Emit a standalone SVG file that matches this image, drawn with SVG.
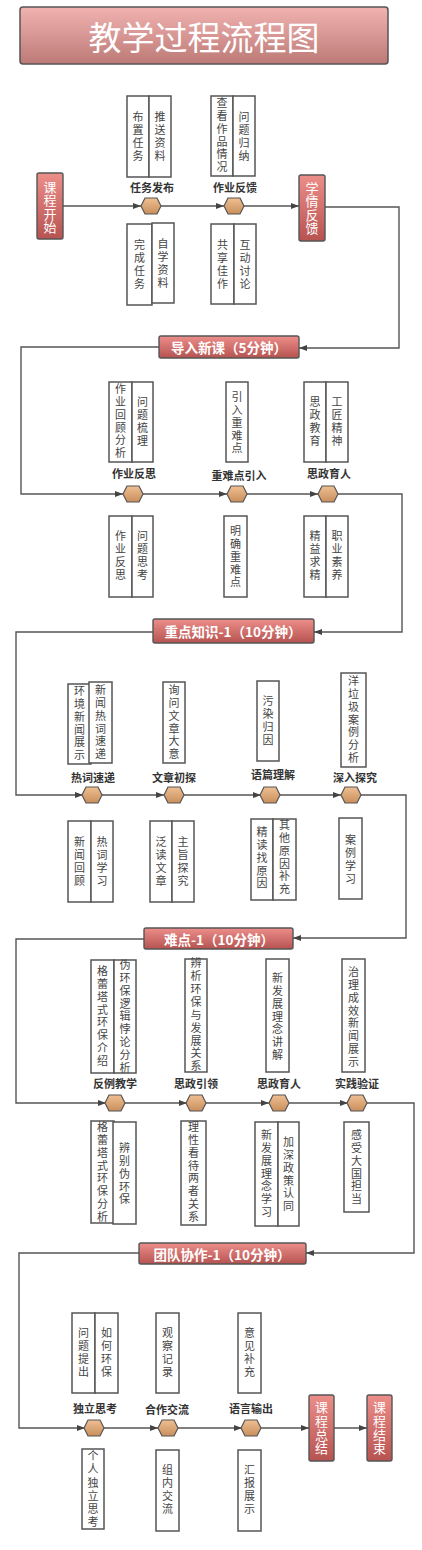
<svg xmlns="http://www.w3.org/2000/svg" width="422" height="1550" viewBox="0 0 422 1550">
<defs>
<linearGradient id="gTitle" x1="0" y1="0" x2="0" y2="1"><stop offset="0" stop-color="#f1b3b0"/><stop offset="1" stop-color="#bd7a77"/></linearGradient>
<linearGradient id="gRed" x1="0" y1="0" x2="0" y2="1"><stop offset="0" stop-color="#ec8e8a"/><stop offset="1" stop-color="#b65351"/></linearGradient>
<linearGradient id="gHex" x1="0" y1="0" x2="0" y2="1"><stop offset="0" stop-color="#efbf92"/><stop offset="1" stop-color="#c98f5c"/></linearGradient>
<marker id="arr" markerWidth="8" markerHeight="6" refX="8" refY="3" orient="auto" markerUnits="userSpaceOnUse"><path d="M0,0 L8,3 L0,6 Z" fill="#444"/></marker>
<polygon id="hex" points="-10,0 -6,-8 6,-8 10,0 6,8 -6,8" fill="url(#gHex)" stroke="#555" stroke-width="1.2"/>
</defs>
<style>
.conn path{fill:none;stroke:#555;stroke-width:1.4}
.box{fill:#fff;stroke:#555;stroke-width:1.5}
.vt{font-family:"Noto Sans CJK SC","Noto Sans",sans-serif;font-size:11px;fill:#444;writing-mode:vertical-rl;letter-spacing:1.8px;dominant-baseline:central}
.lbl{font-family:"Noto Sans CJK SC","Noto Sans",sans-serif;font-size:11px;font-weight:bold;fill:#333;text-anchor:middle;dominant-baseline:central}
.red{fill:url(#gRed);stroke:#555;stroke-width:1.4}
.rt{font-family:"Noto Sans CJK SC","Noto Sans",sans-serif;font-size:13px;fill:#fff;writing-mode:vertical-rl;letter-spacing:0.4px;dominant-baseline:central}
.ht{font-family:"Noto Sans CJK SC","Noto Sans",sans-serif;font-size:13.5px;font-weight:bold;fill:#fff;text-anchor:middle;dominant-baseline:central}
</style>
<rect width="422" height="1550" fill="#fff"/>
<g id="title">
<rect x="20" y="7" width="368" height="57" rx="3" fill="url(#gTitle)" stroke="#555" stroke-width="1.5"/>
<text x="204" y="36" font-family="Noto Sans CJK SC,sans-serif" font-size="33" fill="#fff" text-anchor="middle" dominant-baseline="central">教学过程流程图</text>
</g>

<g id="connectors" class="conn">
<path d="M63,206 H141" marker-end="url(#arr)"/>
<path d="M161,206 H224" marker-end="url(#arr)"/>
<path d="M244,206 H299" marker-end="url(#arr)"/>
<path d="M325,207 H399 V348 H299" marker-end="url(#arr)"/>
<path d="M159,347 H21 V494 H123" marker-end="url(#arr)"/>
<path d="M143,494 H227" marker-end="url(#arr)"/>
<path d="M247,494 H318" marker-end="url(#arr)"/>
<path d="M338,494 H402 V632 H314" marker-end="url(#arr)"/>
<path d="M153,632 H16 V795 H83" marker-end="url(#arr)"/>
<path d="M102,795 H164" marker-end="url(#arr)"/>
<path d="M183,795 H261" marker-end="url(#arr)"/>
<path d="M280,795 H341" marker-end="url(#arr)"/>
<path d="M360,795 H406 V938 H293" marker-end="url(#arr)"/>
<path d="M144,939 H16 V1103 H106" marker-end="url(#arr)"/>
<path d="M125,1103 H187" marker-end="url(#arr)"/>
<path d="M206,1103 H269" marker-end="url(#arr)"/>
<path d="M289,1103 H348" marker-end="url(#arr)"/>
<path d="M367,1103 H414 V1253 H306" marker-end="url(#arr)"/>
<path d="M139,1253 H19 V1428 H85" marker-end="url(#arr)"/>
<path d="M104,1428 H158" marker-end="url(#arr)"/>
<path d="M178,1428 H242" marker-end="url(#arr)"/>
<path d="M261,1428 H309" marker-end="url(#arr)"/>
<path d="M334,1428 H367" marker-end="url(#arr)"/>
</g>

<g id="start"><rect class="red" x="37" y="173" width="26" height="66" rx="2"/><text class="rt" x="50" y="180.5">课程开始</text></g>
<g id="feedback"><rect class="red" x="299" y="175" width="26" height="66" rx="2"/><text class="rt" x="312" y="181.5">学情反馈</text></g>

<!-- Section 1 -->
<g id="n-task"><use href="#hex" x="151" y="206"/><text class="lbl" x="152" y="187">任务发布</text></g>
<g id="n-hwfb"><use href="#hex" x="234" y="206"/><text class="lbl" x="235" y="187">作业反馈</text></g>
<g id="b1a"><rect class="box" x="127" y="96" width="22" height="81"/><rect class="box" x="149" y="96" width="22" height="81"/>
<text class="vt" x="138" y="111.5">布置任务</text><text class="vt" x="160" y="111.5">推送资料</text></g>
<g id="b1b"><rect class="box" x="211" y="96" width="22" height="80"/><rect class="box" x="233" y="96" width="22" height="80"/>
<text class="vt" x="222" y="97.5">查看作品情况</text><text class="vt" x="244" y="111.5">问题归纳</text></g>
<g id="b1c"><rect class="box" x="127" y="224" width="25" height="81"/><rect class="box" x="152" y="223" width="22" height="80"/>
<text class="vt" x="139.5" y="239.5">完成任务</text><text class="vt" x="163" y="238.5">自学资料</text></g>
<g id="b1d"><rect class="box" x="211" y="224" width="23" height="80"/><rect class="box" x="234" y="224" width="22" height="80"/>
<text class="vt" x="222.5" y="239.5">共享佳作</text><text class="vt" x="245" y="239.5">互动讨论</text></g>

<!-- Section 2 -->
<g id="h-intro"><rect class="red" x="159" y="336" width="140" height="22" rx="2"/><text class="ht" x="229" y="347">导入新课（5分钟）</text></g>
<g id="n-hwref"><use href="#hex" x="133" y="494"/><text class="lbl" x="134" y="473">作业反思</text></g>
<g id="n-keyin"><use href="#hex" x="237" y="494"/><text class="lbl" x="239" y="475">重难点引入</text></g>
<g id="n-szyr1"><use href="#hex" x="328" y="494"/><text class="lbl" x="329" y="473">思政育人</text></g>
<g id="b2a"><rect class="box" x="109" y="382" width="23" height="80"/><rect class="box" x="132" y="382" width="21" height="80"/>
<text class="vt" x="120.5" y="383.5">作业回顾分析</text><text class="vt" x="142.5" y="396.5">问题梳理</text></g>
<g id="b2b"><rect class="box" x="226" y="382" width="22" height="80"/>
<text class="vt" x="237" y="391.5">引入重难点</text></g>
<g id="b2c"><rect class="box" x="304" y="382" width="22" height="80"/><rect class="box" x="326" y="382" width="22" height="80"/>
<text class="vt" x="315" y="396.5">思政教育</text><text class="vt" x="337" y="396.5">工匠精神</text></g>
<g id="b2d"><rect class="box" x="109" y="516" width="23" height="81"/><rect class="box" x="132" y="516" width="21" height="81"/>
<text class="vt" x="120.5" y="530.5">作业反思</text><text class="vt" x="142.5" y="530.5">问题思考</text></g>
<g id="b2e"><rect class="box" x="224" y="516" width="23" height="81"/>
<text class="vt" x="235.5" y="525.5">明确重难点</text></g>
<g id="b2f"><rect class="box" x="304" y="516" width="22" height="81"/><rect class="box" x="326" y="516" width="22" height="81"/>
<text class="vt" x="315" y="530.5">精益求精</text><text class="vt" x="337" y="530.5">职业素养</text></g>

<!-- Section 3 -->
<g id="h-key"><rect class="red" x="153" y="619" width="161" height="24" rx="2"/><text class="ht" x="233" y="631">重点知识-1（10分钟）</text></g>
<g id="n-hot"><use href="#hex" x="92" y="795"/><text class="lbl" x="93" y="777">热词速递</text></g>
<g id="n-art"><use href="#hex" x="174" y="795"/><text class="lbl" x="174" y="777">文章初探</text></g>
<g id="n-txt"><use href="#hex" x="270" y="795"/><text class="lbl" x="273" y="774">语篇理解</text></g>
<g id="n-deep"><use href="#hex" x="351" y="795"/><text class="lbl" x="355" y="777">深入探究</text></g>
<g id="b3a"><rect class="box" x="68" y="684" width="23" height="80"/><rect class="box" x="89" y="682" width="23" height="81"/>
<text class="vt" x="79.5" y="685.5">环境新闻展示</text><text class="vt" x="100.5" y="684.5">新闻热词速递</text></g>
<g id="b3b"><rect class="box" x="163" y="682" width="22" height="81"/>
<text class="vt" x="174" y="684.5">询问文章大意</text></g>
<g id="b3c"><rect class="box" x="257" y="681" width="22" height="80"/>
<text class="vt" x="268" y="695.5">污染归因</text></g>
<g id="b3d"><rect class="box" x="341" y="673" width="25" height="94"/>
<text class="vt" x="353.5" y="675.5">洋垃圾案例分析</text></g>
<g id="b3e"><rect class="box" x="68" y="821" width="23" height="81"/><rect class="box" x="91" y="821" width="22" height="81"/>
<text class="vt" x="79.5" y="836.5">新闻回顾</text><text class="vt" x="102" y="836.5">热词学习</text></g>
<g id="b3f"><rect class="box" x="150" y="821" width="22" height="81"/><rect class="box" x="172" y="821" width="22" height="81"/>
<text class="vt" x="161" y="836.5">泛读文章</text><text class="vt" x="183" y="836.5">主旨探究</text></g>
<g id="b3g"><rect class="box" x="251" y="819" width="22" height="81"/><rect class="box" x="273" y="819" width="23" height="81"/>
<text class="vt" x="262" y="826.5">精读找原因</text><text class="vt" x="284.5" y="819.5">其他原因补充</text></g>
<g id="b3h"><rect class="box" x="339" y="818" width="23" height="81"/>
<text class="vt" x="350.5" y="834.5">案例学习</text></g>

<!-- Section 4 -->
<g id="h-diff"><rect class="red" x="144" y="928" width="149" height="21" rx="2"/><text class="ht" x="219" y="938.5">难点-1（10分钟）</text></g>
<g id="n-counter"><use href="#hex" x="115" y="1103"/><text class="lbl" x="115" y="1083">反例教学</text></g>
<g id="n-szyl"><use href="#hex" x="196" y="1103"/><text class="lbl" x="196" y="1083">思政引领</text></g>
<g id="n-szyr2"><use href="#hex" x="279" y="1103"/><text class="lbl" x="279" y="1083">思政育人</text></g>
<g id="n-prac"><use href="#hex" x="357" y="1103"/><text class="lbl" x="357" y="1083">实践验证</text></g>
<g id="b4a"><rect class="box" x="91" y="960" width="23" height="113"/><rect class="box" x="114" y="960" width="22" height="113"/>
<text class="vt" x="102.5" y="965.5">格蕾塔式环保介绍</text><text class="vt" x="125" y="959.5">伪环保逻辑悖论分析</text></g>
<g id="b4b"><rect class="box" x="185" y="959" width="22" height="113"/>
<text class="vt" x="196" y="957.5" style="letter-spacing:1.9px">辨析环保与发展关系</text></g>
<g id="b4c"><rect class="box" x="266" y="959" width="23" height="113"/>
<text class="vt" x="277.5" y="972.5">新发展理念讲解</text></g>
<g id="b4d"><rect class="box" x="342" y="959" width="23" height="113"/>
<text class="vt" x="353.5" y="966.5">治理成效新闻展示</text></g>
<g id="b4e"><rect class="box" x="91" y="1121" width="23" height="102"/><rect class="box" x="113" y="1122" width="23" height="102"/>
<text class="vt" x="102.5" y="1121.5">格蕾塔式环保分析</text><text class="vt" x="124.5" y="1142.5">辨别伪环保</text></g>
<g id="b4f"><rect class="box" x="181" y="1121" width="25" height="104"/>
<text class="vt" x="193.5" y="1121.5">理性看待两者关系</text></g>
<g id="b4g"><rect class="box" x="255" y="1122" width="23" height="104"/><rect class="box" x="278" y="1122" width="21" height="104"/>
<text class="vt" x="266.5" y="1129.5">新发展理念学习</text><text class="vt" x="288.5" y="1136.5">加深政策认同</text></g>
<g id="b4h"><rect class="box" x="344" y="1122" width="25" height="90"/>
<text class="vt" x="356.5" y="1129.5">感受大国担当</text></g>

<!-- Section 5 -->
<g id="h-team"><rect class="red" x="139" y="1243" width="167" height="21" rx="2"/><text class="ht" x="222" y="1253.5">团队协作-1（10分钟）</text></g>
<g id="n-indep"><use href="#hex" x="94" y="1428"/><text class="lbl" x="95" y="1408">独立思考</text></g>
<g id="n-coop"><use href="#hex" x="168" y="1428"/><text class="lbl" x="167" y="1409">合作交流</text></g>
<g id="n-lang"><use href="#hex" x="251" y="1428"/><text class="lbl" x="251" y="1408">语言输出</text></g>
<g id="b5a"><rect class="box" x="72" y="1313" width="23" height="80"/><rect class="box" x="95" y="1313" width="23" height="80"/>
<text class="vt" x="83.5" y="1327.5">问题提出</text><text class="vt" x="106.5" y="1327.5">如何环保</text></g>
<g id="b5b"><rect class="box" x="156" y="1313" width="23" height="80"/>
<text class="vt" x="167.5" y="1327.5">观察记录</text></g>
<g id="b5c"><rect class="box" x="238" y="1313" width="23" height="80"/>
<text class="vt" x="249.5" y="1327.5">意见补充</text></g>
<g id="b5d"><rect class="box" x="82" y="1449" width="22" height="80"/>
<text class="vt" x="93" y="1450.5" style="letter-spacing:2.2px">个人独立思考</text></g>
<g id="b5e"><rect class="box" x="156" y="1450" width="23" height="81"/>
<text class="vt" x="167.5" y="1464.5">组内交流</text></g>
<g id="b5f"><rect class="box" x="238" y="1450" width="23" height="81"/>
<text class="vt" x="249.5" y="1464.5">汇报展示</text></g>
<g id="summary"><rect class="red" x="309" y="1395" width="25" height="66" rx="2"/><text class="rt" x="321.5" y="1400.5" style="letter-spacing:0.8px">课程总结</text></g>
<g id="end"><rect class="red" x="367" y="1395" width="25" height="66" rx="2"/><text class="rt" x="379.5" y="1400.5" style="letter-spacing:0.8px">课程结束</text></g>
</svg>
